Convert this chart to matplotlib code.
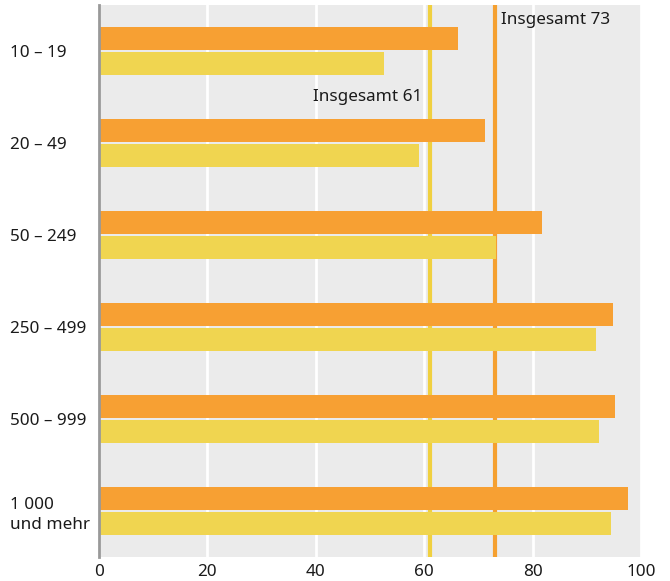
import numpy as np
import matplotlib
matplotlib.use("Agg")
import matplotlib.pyplot as plt

plt.rcParams['font.family'] = ['Noto Sans', 'DejaVu Sans']

categories = ["10 – 19", "20 – 49", "50 – 249", "250 – 499", "500 – 999", "1 000\nund mehr"]
orange_vals = [66.2, 71.3, 81.7, 94.8, 95.2, 97.6]
yellow_vals = [52.5, 59.1, 73.2, 91.7, 92.2, 94.5]
total_orange = 73
total_yellow = 61
xticks = [0, 20, 40, 60, 80, 100]

orange = "#F7A033"
yellow = "#F0D550"
fs = 12.3

fig = plt.figure(figsize=(6.7, 5.81), dpi=100)
ax = fig.add_axes([99/670, 1-557/581, 542/670, 552/581])
ax.set_facecolor("#EBEBEB")

y = np.arange(len(categories))
h = 0.25
gap = 0.011
ax.barh(y - h/2 - gap, orange_vals, height=h, color=orange, zorder=3)
ax.barh(y + h/2 + gap, yellow_vals, height=h, color=yellow, zorder=3)

ax.axvline(total_yellow, color="#F0D040", lw=3, zorder=2)
ax.axvline(total_orange, color="#F5A030", lw=3, zorder=2)

ax.text(total_orange + 1.2, -0.34, "Insgesamt 73", fontsize=fs, va="center", ha="left", color="#1a1a1a", zorder=4)
ax.text(total_yellow - 1.3, 0.5, "Insgesamt 61", fontsize=fs, va="center", ha="right", color="#1a1a1a", zorder=4)

ax.set_xlim(0, 100)
ax.set_ylim(len(categories) - 0.5, -0.5)
ax.set_xticks(xticks)
ax.set_xticklabels([str(t) for t in xticks], fontsize=fs, color="#1a1a1a")
ax.set_yticks(y)
ax.set_yticklabels(categories, fontsize=fs, color="#1a1a1a", linespacing=1.35)
for lab in ax.get_yticklabels():
    lab.set_horizontalalignment("left")
ax.tick_params(axis="y", length=0, pad=64)
ax.tick_params(axis="x", length=0, pad=5)

ax.grid(axis="x", color="white", lw=2, zorder=1)
ax.set_axisbelow(True)
for s in ["top", "right", "bottom"]:
    ax.spines[s].set_visible(False)
ax.spines["left"].set_color("#999999")
ax.spines["left"].set_linewidth(2)
ax.spines["left"].set_zorder(5)

fig.savefig("out.png", dpi=100)
